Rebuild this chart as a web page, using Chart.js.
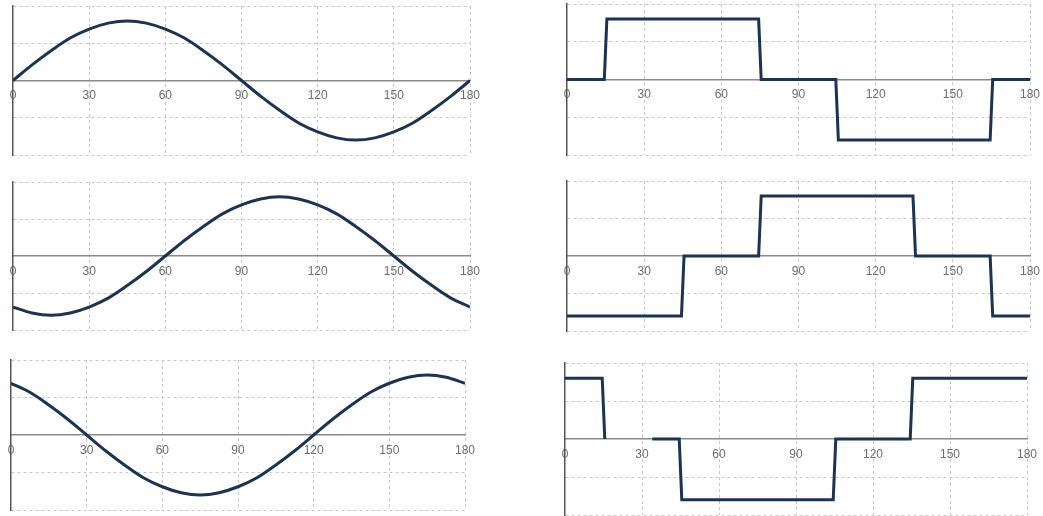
<!DOCTYPE html>
<html>
<head>
<meta charset="utf-8">
<script src="https://cdn.jsdelivr.net/npm/chart.js@4"></script>
<style>
  html, body { margin: 0; padding: 0; background: #fff; overflow: hidden; }
  body { width: 1043px; height: 516px; position: relative; }
  .panel { position: absolute; }
</style>
</head>
<body>
<div class="panel" id="p1"><canvas id="c1"></canvas></div>
<div class="panel" id="p2"><canvas id="c2"></canvas></div>
<div class="panel" id="p3"><canvas id="c3"></canvas></div>
<div class="panel" id="p4"><canvas id="c4"></canvas></div>
<div class="panel" id="p5"><canvas id="c5"></canvas></div>
<div class="panel" id="p6"><canvas id="c6"></canvas></div>
<script>
// angle in degrees, sampled every 7.5
const sineAngles = [0, 7.5, 15, 22.5, 30, 37.5, 45, 52.5, 60, 67.5, 75, 82.5, 90,
  97.5, 105, 112.5, 120, 127.5, 135, 142.5, 150, 157.5, 165, 172.5, 180];

const waveA = [0, 0.21, 0.40, 0.57, 0.69, 0.77, 0.80, 0.77, 0.69, 0.57, 0.40, 0.21, 0,
  -0.21, -0.40, -0.57, -0.69, -0.77, -0.80, -0.77, -0.69, -0.57, -0.40, -0.21, 0];
const waveB = [-0.69, -0.77, -0.80, -0.77, -0.69, -0.57, -0.40, -0.21, 0, 0.21, 0.40, 0.57, 0.69,
  0.77, 0.80, 0.77, 0.69, 0.57, 0.40, 0.21, 0, -0.21, -0.40, -0.57, -0.69];
const waveC = [0.69, 0.57, 0.40, 0.21, 0, -0.21, -0.40, -0.57, -0.69, -0.77, -0.80, -0.77, -0.69,
  -0.57, -0.40, -0.21, 0, 0.21, 0.40, 0.57, 0.69, 0.77, 0.80, 0.77, 0.69];

// stepped waves: corner points
const stepAx = [0, 14.5, 15.5, 74.5, 75.5, 104.5, 105.5, 164.5, 165.5, 180];
const stepAy = [0, 0, 0.8, 0.8, 0, 0, -0.8, -0.8, 0, 0];
const stepBx = [0, 44.5, 45.5, 74.5, 75.5, 134.5, 135.5, 164.5, 165.5, 180];
const stepBy = [-0.8, -0.8, 0, 0, 0.8, 0.8, 0, 0, -0.8, -0.8];
const stepCx = [0, 14.5, 15.5, 25, 34, 44.5, 45.5, 104.5, 105.5, 134.5, 135.5, 180];
const stepCy = [0.8, 0.8, 0, null, 0, 0, -0.8, -0.8, 0, 0, 0.8, 0.8];

const xTicks = [0, 30, 60, 90, 120, 150, 180];

const lineColor = '#1d3352';
const gridColor = '#c8c8c8';

function toPoints(xs, ys) {
  return xs.map((x, i) => ({x: x, y: ys[i]}));
}

// chart area box: left, top, right, bottom
function makePanel(id, box, xs, ys, smooth) {
  const padL = 12, padR = 24, padT = 4, padB = 4;
  const div = document.getElementById('p' + id);
  div.style.left = (box[0] - padL) + 'px';
  div.style.top = (box[1] - padT) + 'px';
  div.style.width = (box[2] - box[0] + padL + padR) + 'px';
  div.style.height = (box[3] - box[1] + padT + padB) + 'px';

  new Chart(document.getElementById('c' + id), {
    type: 'line',
    data: {
      datasets: [{
        data: toPoints(xs, ys),
        borderColor: lineColor,
        borderWidth: 3,
        pointRadius: 0,
        fill: false,
        cubicInterpolationMode: smooth ? 'monotone' : 'default',
        tension: 0,
        borderJoinStyle: 'miter'
      }]
    },
    options: {
      responsive: true,
      maintainAspectRatio: false,
      animation: false,
      events: [],
      layout: { padding: { left: padL, right: padR, top: padT, bottom: padB } },
      plugins: { legend: { display: false }, tooltip: { enabled: false } },
      scales: {
        x: {
          type: 'linear',
          min: 0,
          max: 180,
          position: { y: 0 },
          afterBuildTicks: (axis) => { axis.ticks = xTicks.map(v => ({value: v})); },
          ticks: {
            padding: 8,
            color: '#6e6e6e',
            font: { family: 'Liberation Sans', size: 12 },
            maxRotation: 0,
            autoSkip: false
          },
          grid: {
            drawTicks: false,
            color: (c) => c.tick && c.tick.value === 0 ? 'rgba(0,0,0,0)' : gridColor,
            lineWidth: 1
          },
          border: { display: true, color: '#8a8a8a', width: 1.5, dash: [3, 3] }
        },
        y: {
          min: -1,
          max: 1,
          ticks: { display: false, stepSize: 0.5 },
          grid: {
            drawTicks: false,
            color: (c) => c.tick && c.tick.value === 0 ? 'rgba(0,0,0,0)' : gridColor,
            lineWidth: 1
          },
          border: { display: true, color: '#555', width: 1.5, dash: [3, 3] }
        }
      }
    }
  });
}

makePanel(1, [13, 6, 470, 155], sineAngles, waveA, true);
makePanel(3, [13, 182, 470, 330], sineAngles, waveB, true);
makePanel(5, [11, 360, 465, 510], sineAngles, waveC, true);
makePanel(2, [567, 4, 1030, 155], stepAx, stepAy, false);
makePanel(4, [567, 181, 1030, 331], stepBx, stepBy, false);
makePanel(6, [565, 363, 1027, 515], stepCx, stepCy, false);
</script>
</body>
</html>
